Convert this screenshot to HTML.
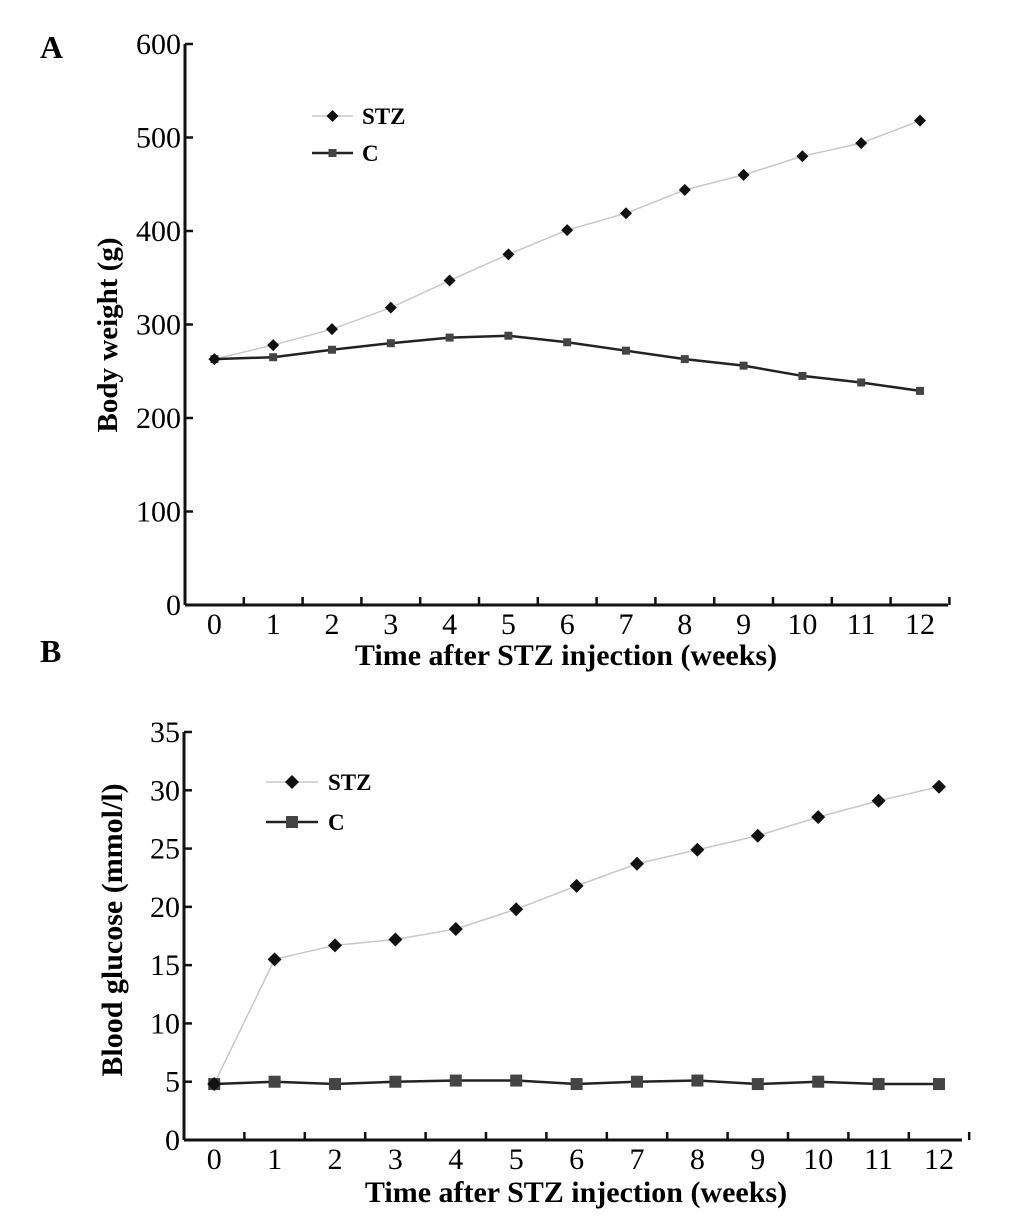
<!DOCTYPE html>
<html><head><meta charset="utf-8"><style>
html,body{margin:0;padding:0;background:#fff;}
svg, svg text{font-family:"Liberation Serif","Times New Roman",serif;}
svg{display:block;}
</style></head><body>
<svg id="s" width="1033" height="1217" viewBox="0 0 1033 1217" xmlns="http://www.w3.org/2000/svg">
<text x="40" y="58" font-size="32" font-weight="bold" font-family="Liberation Serif, serif">A</text>
<text x="40" y="662" font-size="32" font-weight="bold" font-family="Liberation Serif, serif">B</text>
</svg>
<script>
const weeks = ["0","1","2","3","4","5","6","7","8","9","10","11","12"];
const weightStz = [263,278,295,318,347,375,401,419,444,460,480,494,518];
const weightC = [263,265,273,280,286,288,281,272,263,256,245,238,229];
const weightTicks = [0,100,200,300,400,500,600];
const glucoseStz = [4.8,15.5,16.7,17.2,18.1,19.8,21.8,23.7,24.9,26.1,27.7,29.1,30.3];
const glucoseC = [4.8,5.0,4.8,5.0,5.1,5.1,4.8,5.0,5.1,4.8,5.0,4.8,4.8];
const glucoseTicks = [0,5,10,15,20,25,30,35];

const svg = document.getElementById('s');
const NS = 'http://www.w3.org/2000/svg';
const FF = 'Liberation Serif, serif';
function mk(tag, attrs, parent){
  const e = document.createElementNS(NS, tag);
  for (const k in attrs) e.setAttribute(k, attrs[k]);
  if (tag === 'text') e.setAttribute('font-family', FF);
  (parent||svg).appendChild(e);
  return e;
}
function chart(cfg){
  const g = mk('g', {});
  
  
  const y = v => cfg.y0 - (v - cfg.ymin) / (cfg.ymax - cfg.ymin) * (cfg.y0 - cfg.y1);
  const x = i => cfg.x0 + cfg.step * (i + 0.5);
  const ya = mk('line', {x1:cfg.x0, y1:cfg.y1, x2:cfg.x0, y2:cfg.y0, stroke:'#111', 'stroke-width':3}, g);
  
  
  const xa = mk('line', {x1:cfg.x0, y1:cfg.y0, x2:cfg.xEnd, y2:cfg.y0, stroke:'#111', 'stroke-width':3}, g);
  
  
  cfg.ticks.forEach(t => {
    const yy = y(t);
    mk('line', {x1:cfg.x0, y1:yy, x2:cfg.x0+8, y2:yy, stroke:'#111', 'stroke-width':2.5}, g);
    const tx = mk('text', {x:cfg.x0-4, y:yy+10, 'font-size':30, 'text-anchor':'end'}, g);
    tx.textContent = t;
    
    
  });
  for (let i = 1; i <= cfg.cats.length; i++) {
    const xx = cfg.x0 + cfg.step * i;
    mk('line', {x1:xx, y1:cfg.y0, x2:xx, y2:cfg.y0-8, stroke:'#111', 'stroke-width':2.5}, g);
  }
  cfg.cats.forEach((c, i) => {
    const tx = mk('text', {x:x(i), y:cfg.y0+29, 'font-size':30, 'text-anchor':'middle'}, g);
    tx.textContent = c;
    
    
  });
  const xt = mk('text', {x:cfg.xtx, y:cfg.xty, 'font-size':30, 'font-weight':'bold', 'text-anchor':'middle'}, g);
  xt.textContent = 'Time after STZ injection (weeks)';
  
  
  const yt = mk('text', {x:0, y:0, 'font-size':cfg.ytSize, 'font-weight':'bold', 'text-anchor':'middle', transform:`translate(${cfg.ytx},${cfg.yty}) rotate(-90)`}, g);
  yt.textContent = cfg.ytitle;
  
  
  const p1 = mk('polyline', {points: cfg.stz.map((v,i)=>x(i)+','+y(v)).join(' '), fill:'none', stroke:'#c8c8c8', 'stroke-width':1.5}, g);
  
  
  const p2 = mk('polyline', {points: cfg.c.map((v,i)=>x(i)+','+y(v)).join(' '), fill:'none', stroke:'#222', 'stroke-width':2.5}, g);
  
  
  const d = cfg.dia, q = cfg.sq;
  cfg.c.forEach((v,i) => {
    const r = mk('rect', {x:x(i)-q/2, y:y(v)-q/2, width:q, height:q, fill:'#444'}, g);
    
    
  });
  cfg.stz.forEach((v,i) => {
    const cx = x(i), cy = y(v);
    const r = mk('polygon', {points:`${cx},${cy-d} ${cx+d},${cy} ${cx},${cy+d} ${cx-d},${cy}`, fill:'#111'}, g);
    
    
  });
  const L = cfg.leg;
  const lg = mk('g', {}, g);
  
  
  mk('line', {x1:L.x1, y1:L.y1, x2:L.x2, y2:L.y1, stroke:'#c8c8c8', 'stroke-width':1.5}, lg);
  const mx = (L.x1+L.x2)/2;
  mk('polygon', {points:`${mx},${L.y1-d} ${mx+d},${L.y1} ${mx},${L.y1+d} ${mx-d},${L.y1}`, fill:'#111'}, lg);
  const t1 = mk('text', {x:L.tx, y:L.y1+8, 'font-size':23, 'font-weight':'bold'}, lg);
  t1.textContent = 'STZ';
  
  
  mk('line', {x1:L.x1, y1:L.y2, x2:L.x2, y2:L.y2, stroke:'#222', 'stroke-width':2.5}, lg);
  mk('rect', {x:mx-q/2, y:L.y2-q/2, width:q, height:q, fill:'#444'}, lg);
  const t2 = mk('text', {x:L.tx, y:L.y2+8, 'font-size':23, 'font-weight':'bold'}, lg);
  t2.textContent = 'C';
  
  
}
chart({name:'body-weight-chart', cats:weeks, stz:weightStz, c:weightC, ticks:weightTicks,
  ymin:0, ymax:600, x0:185, y0:605, y1:44, step:58.8, xEnd:948,
  xtx:566, xty:665, ytx:117, yty:335, ytitle:'Body weight (g)', ytSize:29, dia:6, sq:8,
  leg:{x1:312, x2:353, y1:116, y2:153, tx:362}});
chart({name:'blood-glucose-chart', cats:weeks, stz:glucoseStz, c:glucoseC, ticks:glucoseTicks,
  ymin:0, ymax:35, x0:184, y0:1140, y1:732, step:60.4, xEnd:962,
  xtx:576, xty:1202, ytx:122, yty:930, ytitle:'Blood glucose (mmol/l)', ytSize:30, dia:7, sq:12,
  leg:{x1:266, x2:318, y1:782, y2:822, tx:328}});
</script>
</body></html>
